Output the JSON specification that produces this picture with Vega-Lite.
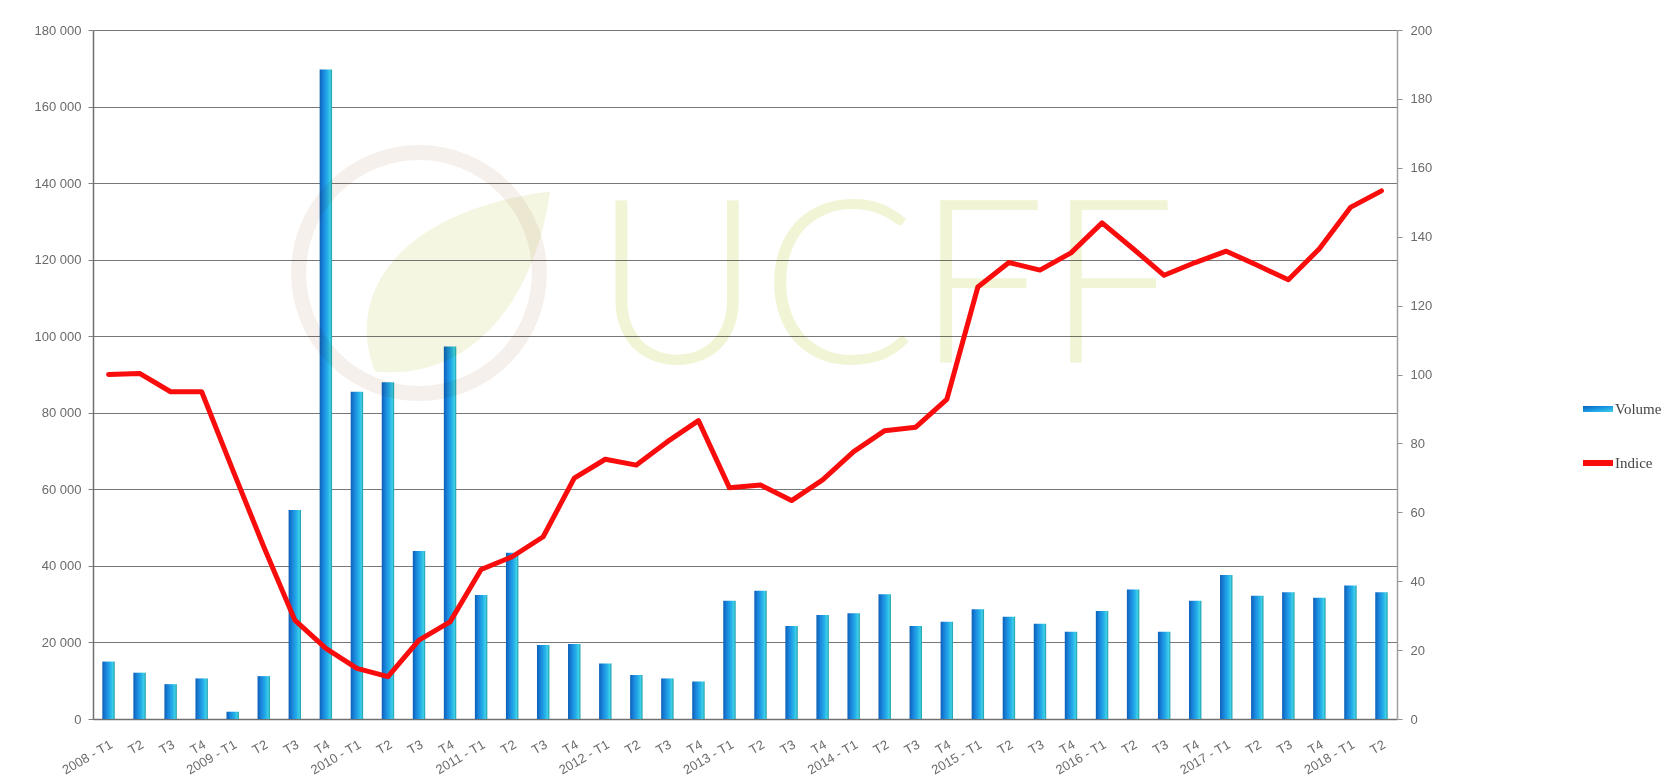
{
  "$schema": "https://vega.github.io/schema/vega-lite/v6.json",
  "width": 1304,
  "height": 689,
  "autosize": {"type": "none"},
  "padding": {"left": 93, "top": 30, "right": 282, "bottom": 58},
  "background": "white",
  "config": {"view": {"stroke": null}, "font": "Liberation Sans"},
  "data": {"values": [
    {"q": "2008 - T1", "volume": 15000, "indice": 100},
    {"q": "2008 - T2", "volume": 12100, "indice": 100.3},
    {"q": "2008 - T3", "volume": 9100, "indice": 95},
    {"q": "2008 - T4", "volume": 10600, "indice": 95},
    {"q": "2009 - T1", "volume": 1900, "indice": 72.3},
    {"q": "2009 - T2", "volume": 11200, "indice": 50},
    {"q": "2009 - T3", "volume": 54600, "indice": 28.7},
    {"q": "2009 - T4", "volume": 169700, "indice": 20.5},
    {"q": "2010 - T1", "volume": 85500, "indice": 14.7},
    {"q": "2010 - T2", "volume": 88000, "indice": 12.3},
    {"q": "2010 - T3", "volume": 43900, "indice": 22.9},
    {"q": "2010 - T4", "volume": 97300, "indice": 28.2},
    {"q": "2011 - T1", "volume": 32400, "indice": 43.4},
    {"q": "2011 - T2", "volume": 43400, "indice": 47.1},
    {"q": "2011 - T3", "volume": 19300, "indice": 52.9},
    {"q": "2011 - T4", "volume": 19600, "indice": 69.9},
    {"q": "2012 - T1", "volume": 14500, "indice": 75.4},
    {"q": "2012 - T2", "volume": 11500, "indice": 73.7},
    {"q": "2012 - T3", "volume": 10600, "indice": 80.5},
    {"q": "2012 - T4", "volume": 9800, "indice": 86.6},
    {"q": "2013 - T1", "volume": 30900, "indice": 67.1},
    {"q": "2013 - T2", "volume": 33500, "indice": 67.9},
    {"q": "2013 - T3", "volume": 24300, "indice": 63.4},
    {"q": "2013 - T4", "volume": 27200, "indice": 69.4},
    {"q": "2014 - T1", "volume": 27600, "indice": 77.6},
    {"q": "2014 - T2", "volume": 32600, "indice": 83.7},
    {"q": "2014 - T3", "volume": 24300, "indice": 84.7},
    {"q": "2014 - T4", "volume": 25400, "indice": 92.8},
    {"q": "2015 - T1", "volume": 28700, "indice": 125.4},
    {"q": "2015 - T2", "volume": 26700, "indice": 132.5},
    {"q": "2015 - T3", "volume": 24900, "indice": 130.3},
    {"q": "2015 - T4", "volume": 22800, "indice": 135.3},
    {"q": "2016 - T1", "volume": 28200, "indice": 144},
    {"q": "2016 - T2", "volume": 33800, "indice": 136.5},
    {"q": "2016 - T3", "volume": 22800, "indice": 128.8},
    {"q": "2016 - T4", "volume": 30900, "indice": 132.5},
    {"q": "2017 - T1", "volume": 37600, "indice": 135.8},
    {"q": "2017 - T2", "volume": 32200, "indice": 131.7},
    {"q": "2017 - T3", "volume": 33100, "indice": 127.5},
    {"q": "2017 - T4", "volume": 31700, "indice": 136.5},
    {"q": "2018 - T1", "volume": 34900, "indice": 148.5},
    {"q": "2018 - T2", "volume": 33100, "indice": 153.3}
  ]},
  "layer": [
    {
      "layer": [
        {
          "mark": {"type": "bar", "fill": {"gradient": "linear", "x1": 0, "x2": 1, "y1": 0, "y2": 0, "stops": [
            {"offset": 0, "color": "#0d5fb8"},
            {"offset": 0.3, "color": "#1a86dc"},
            {"offset": 0.65, "color": "#25b0ea"},
            {"offset": 0.85, "color": "#3fcfe6"},
            {"offset": 1, "color": "#1c9aa8"}
          ]}},
          "encoding": {
            "x": {
              "field": "q", "type": "nominal", "sort": null,
              "scale": {"paddingInner": 0.6, "paddingOuter": 0.3},
              "axis": {
                "title": null, "labelAngle": -30, "labelAlign": "right", "labelBaseline": "top",
                "labelPadding": 19, "labelDx": -8, "ticks": false, "labelOverlap": false,
                "domainColor": "#707070", "domainWidth": 1.5,
                "labelFontSize": 13, "labelColor": "#6a6a6a", "labelFont": "Liberation Sans",
                "labelExpr": "indexof(datum.value, 'T1') >= 0 ? datum.value : substring(datum.value, 7)"
              }
            },
            "y": {
              "field": "volume", "type": "quantitative",
              "scale": {"domain": [0, 180000], "nice": false},
              "axis": {
                "orient": "left", "title": null,
                "values": [0, 20000, 40000, 60000, 80000, 100000, 120000, 140000, 160000, 180000],
                "labelExpr": "replace(format(datum.value, ','), ',', ' ')",
                "grid": true, "gridColor": "#777777", "gridWidth": 1.2,
                "domainColor": "#707070", "domainWidth": 1.5,
                "tickColor": "#808080", "tickSize": 5,
                "labelColor": "#6a6a6a", "labelFontSize": 13, "labelPadding": 7, "labelFont": "Liberation Sans"
              }
            }
          }
        },
        {
          "data": {"values": [{"w": "logo"}]},
          "mark": {"type": "point", "shape": "circle", "filled": false, "size": 58000, "stroke": "#f6f0ec", "strokeWidth": 15, "opacity": 1, "blend": "multiply"},
          "encoding": {
            "x": {"datum": "2010 - T3", "type": "nominal"},
            "y": {"datum": 116500, "type": "quantitative"}
          }
        },
        {
          "data": {"values": [{"w": "leaf"}]},
          "mark": {"type": "point", "shape": "M-0.75,0.85 C-1.05,0.1 -0.55,-0.75 1,-0.95 C0.85,0.15 0.2,0.95 -0.75,0.85 Z", "filled": true, "size": 40000, "fill": "#f5f6e2", "strokeWidth": 0, "opacity": 1, "blend": "multiply"},
          "encoding": {
            "x": {"datum": "2010 - T4", "type": "nominal"},
            "y": {"datum": 113000, "type": "quantitative"}
          }
        },
        {
          "data": {"values": [{"w": "UCFF"}]},
          "mark": {"type": "text", "fontSize": 230, "font": "Lato", "fontWeight": 300, "color": "#f1f5d6", "align": "center", "baseline": "middle", "blend": "multiply"},
          "encoding": {
            "text": {"field": "w", "type": "nominal"},
            "x": {"datum": "2014 - T2", "type": "nominal"},
            "y": {"datum": 111000, "type": "quantitative"}
          }
        }
      ]
    },
    {
      "mark": {"type": "line", "strokeWidth": 5, "strokeCap": "round", "strokeJoin": "round"},
      "encoding": {
        "x": {"field": "q", "type": "nominal", "sort": null},
        "y": {
          "field": "indice", "type": "quantitative",
          "scale": {"domain": [0, 200], "nice": false},
          "axis": {
            "orient": "right", "title": null,
            "values": [0, 20, 40, 60, 80, 100, 120, 140, 160, 180, 200],
            "grid": false, "domainColor": "#a0a0a0", "domainWidth": 1.5,
            "tickColor": "#909090", "tickSize": 5,
            "labelColor": "#6a6a6a", "labelFontSize": 13, "labelPadding": 8, "labelFont": "Liberation Sans"
          }
        },
        "color": {
          "datum": "Indice", "type": "nominal",
          "scale": {"domain": ["Volume", "Indice"], "range": ["#1a8ae0", "#f80c0c"]},
          "legend": {
            "orient": "none", "legendX": 1490, "legendY": 364, "title": null,
            "direction": "vertical", "padding": 0,
            "symbolType": "M-1,-0.2L1,-0.2L1,0.2L-1,0.2Z", "symbolSize": 900,
            "symbolStrokeWidth": 0,
            "labelFont": "Liberation Serif", "labelFontSize": 15, "labelColor": "#444444",
            "rowPadding": 31, "labelOffset": 2,
            "encode": {"symbols": {"update": {
              "fill": [
                {"test": "datum.value === 'Volume'", "value": {"gradient": "linear", "x1": 0, "x2": 1, "y1": 0, "y2": 1, "stops": [
                  {"offset": 0, "color": "#0d5fb8"},
                  {"offset": 0.5, "color": "#1a9ae4"},
                  {"offset": 1, "color": "#3fcfe6"}
                ]}},
                {"scale": "color", "field": "value"}
              ],
              "stroke": {"value": "transparent"},
              "strokeWidth": {"value": 0}
            }}}
          }
        }
      }
    }
  ],
  "resolve": {"scale": {"y": "independent"}}
}
